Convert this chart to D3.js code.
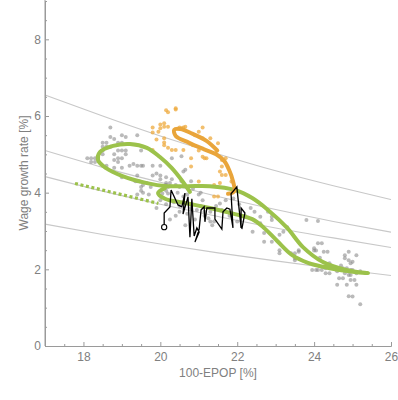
<!DOCTYPE html>
<html>
<head>
<meta charset="utf-8">
<script src="https://cdn.jsdelivr.net/npm/d3@7"></script>
<style>
  body { margin: 0; background: #fff; }
  svg { display: block; font-family: "Liberation Sans", Arial, sans-serif; }
</style>
</head>
<body>
<svg width="398" height="400"></svg>
<script>
// ---- data ----
var xTicks = [18, 20, 22, 24, 26];
var yTicks = [0, 2, 4, 6, 8];

// grey reference curves, sampled at refX
var refX = [17, 18.5, 20, 21.5, 23, 24.5, 26];
var refCurves = [
  [6.55, 6.00, 5.48, 5.01, 4.57, 4.18, 3.82],
  [5.10, 4.66, 4.27, 3.90, 3.56, 3.25, 2.97],
  [4.42, 4.04, 3.70, 3.38, 3.08, 2.82, 2.57],
  [3.18, 2.91, 2.66, 2.43, 2.22, 2.02, 1.84]
];

var grayPts = [
  [18.7,5.7],[19.0,5.5],[19.1,5.45],[18.7,5.45],[19.4,5.5],
  [18.5,5.3],[18.6,5.3],[18.8,5.4],[19.0,5.3],[18.9,5.3],
  [18.5,5.2],[18.6,5.2],[18.7,5.2],[18.9,5.1],[19.0,5.1],[19.1,5.1],[19.1,5.0],[18.5,5.1],[18.8,5.0],[19.5,5.1],
  [18.1,4.9],[18.2,4.9],[18.3,4.9],[18.2,4.8],[18.3,4.8],[18.5,5.0],[18.8,4.85],[18.9,4.8],[19.0,4.65],[18.8,4.65],
  [19.3,4.75],[19.55,4.7],[18.9,4.9],[19.0,4.9],[18.6,4.7],[19.2,4.7],[19.4,4.7],[19.5,4.7],[19.8,4.7],[20.0,4.7],
  [20.3,4.9],[20.55,4.95],[20.6,4.55],[20.8,4.3],[20.15,4.2],[20.25,4.25],[20.4,4.2],[20.5,4.15],[19.55,4.0],[19.7,3.95],
  [19.4,3.95],[19.4,4.3],[19.5,4.15],[19.5,4.05],[19.65,4.25],[19.9,4.5],[20.0,4.35],[20.15,4.4],[20.3,4.35],[20.65,4.6],
  [20.55,4.3],[19.4,4.45],[19.0,4.4],[19.35,4.3],[19.45,4.3],[19.55,4.2],[20.0,4.45],[20.15,4.25],[20.2,4.15],[20.15,4.05],
  [20.05,3.98],[20.2,3.98],[20.0,3.8],[20.15,3.7],[19.9,3.6],[19.8,4.45],[19.75,4.15],
  [20.45,4.0],[20.6,3.9],[20.7,3.95],[20.85,4.1],[21.0,3.95],[21.1,3.8],[20.95,3.55],[21.15,3.4],[21.3,3.25],
  [20.8,3.6],[21.05,4.0],[21.05,3.65],[21.15,3.5],[21.25,3.33],[21.35,3.15],[21.4,3.25],[21.3,3.5],[21.55,3.72],[21.7,3.8],
  [22.35,3.6],[22.45,3.5],[22.4,2.98],[22.2,3.4],[22.0,3.25],[20.4,3.4],[20.5,3.5],[20.25,3.3],[20.65,3.15],
  [20.35,3.75],[20.5,3.65],[20.7,3.45],[21.6,3.55],[21.8,3.4],[22.05,3.7],[21.9,3.85],[20.9,3.3],[21.45,3.65],
  [22.6,3.37],[22.9,3.37],[22.9,3.29],[22.8,3.5],[22.6,3.2],[22.7,2.95],[22.7,2.72],[22.9,2.72],[23.1,2.9],[23.2,2.98],
  [23.1,2.5],[23.1,2.42],[23.3,3.1],[23.4,2.42],[23.5,2.42],[23.6,2.46],[23.6,2.5],[23.5,2.29],[23.5,2.24],[23.8,3.29],
  [24.1,3.26],[24.1,2.68],[24.2,2.68],[24.0,2.49],[24.05,2.49],[24.25,2.46],[24.35,2.46],[23.95,1.98],[24.05,1.98],[24.1,1.98],
  [24.2,1.98],[24.3,2.03],[24.4,2.03],[24.3,1.9],[24.4,1.9],[24.4,2.16],[24.0,2.55],[24.15,2.3],
  [24.9,2.46],[25.1,2.37],[24.8,2.29],[24.9,2.24],[24.95,2.16],[24.75,2.03],[24.85,2.03],[24.95,1.98],[25.0,1.98],[25.1,1.9],
  [24.8,1.9],[24.9,1.85],[24.95,1.85],[24.65,1.77],[24.75,1.77],[24.95,1.72],[24.6,1.6],[25.1,1.6],[24.9,1.3],[25.0,1.29],
  [25.2,1.09],[24.8,2.37],[25.0,2.2],[24.85,1.6],[25.05,1.72],[24.6,1.95],[24.7,2.1],[25.2,1.95],[24.55,2.0]
];

var orangePts = [
  [20.2,6.1],[20.4,6.17],[19.8,5.7],[20.0,5.78],[20.1,5.81],[20.1,5.72],[20.0,5.68],[20.2,5.72],[19.8,5.57],[19.95,5.59],
  [19.9,5.39],[20.1,5.42],[20.1,5.31],[20.1,5.24],[20.5,5.7],[20.6,5.7],[21.1,5.7],[21.0,5.59],[20.2,5.17],[20.4,5.11],
  [20.6,5.11],[20.85,5.24],[21.3,5.42],[21.5,5.29],[21.1,4.94],[21.15,4.9],[21.2,4.9],[20.8,4.9],[21.6,4.85],[21.7,4.9],
  [21.6,4.68],[21.55,4.55],[21.1,5.42],[21.6,4.46],[21.7,4.46],[21.4,4.2],[21.55,4.25],[21.85,4.29],[21.0,4.29],[21.4,3.9],
  [21.5,3.9],[20.4,6.2],[20.15,6.15],[19.8,5.11],[20.3,5.11],[20.55,5.68],[20.65,5.72],[20.8,4.68],[21.0,5.1],[20.9,5.5]
];

// green dotted segment
var greenDotted = [[17.78,4.24],[19.95,3.72]];

// green solid trajectory
var greenPath = [
  [20.77,4.02],[20.59,4.28],[20.30,4.64],[19.99,4.93],[19.65,5.17],[19.21,5.27],[18.77,5.22],[18.43,5.06],
  [18.38,4.85],[18.59,4.64],[19.00,4.44],[19.65,4.25],[20.17,4.17],[20.72,4.17],[21.29,4.17],[21.94,4.07],
  [22.39,3.86],[22.80,3.55],[23.30,3.08],[23.71,2.58],[24.23,2.19],[24.86,1.98],[25.40,1.90],[24.80,1.96],
  [24.41,2.03],[23.84,2.17],[23.43,2.37],[23.04,2.74],[22.70,3.08],[22.39,3.31],[21.94,3.44],[21.29,3.60],
  [20.64,3.73],[20.12,3.84],[19.94,3.99],[20.12,4.12]
];

// orange trajectory
var orangePath = [
  [21.48,5.10],[21.20,5.35],[20.83,5.54],[20.52,5.66],[20.36,5.64],[20.40,5.48],[20.75,5.30],[21.14,5.13],
  [21.45,5.00],[21.66,4.83],[21.79,4.59],[21.89,4.30],[21.92,4.04],[21.76,3.97]
];

// black monthly path
var blackPath = [
  [20.10,3.10],[20.10,3.47],[20.25,3.63],[20.28,4.07],[20.46,3.68],[20.56,3.63],[20.64,3.99],[20.59,3.44],
  [20.72,3.89],[20.77,2.84],[20.82,3.84],[20.88,2.87],[20.95,3.08],[21.01,2.97],[20.90,2.71],[21.01,3.05],
  [21.06,3.55],[21.14,3.63],[21.16,3.24],[21.21,3.60],[21.42,3.60],[21.42,3.31],[21.60,3.05],[21.63,3.50],
  [21.73,3.60],[21.81,3.57],[21.89,3.08],[21.84,3.97],[21.99,4.15],[22.10,3.08],[22.10,3.60],[22.20,3.47],
  [22.12,3.05]
];

// ---- drawing ----
var svg = d3.select("svg");
var x = d3.scaleLinear().domain([17, 26]).range([45, 391]);
var y = d3.scaleLinear().domain([0, 9]).range([346, 1]);

var axisGrey = "#9a9a9a", textGrey = "#808080";

// reference curves
var refLine = d3.line()
  .x(function(d, i) { return x(refX[i]); })
  .y(function(d) { return y(d); })
  .curve(d3.curveNatural);
svg.append("g").selectAll("path")
  .data(refCurves)
  .enter().append("path")
  .attr("d", refLine)
  .attr("fill", "none")
  .attr("stroke", "#c8c8c8")
  .attr("stroke-width", 1.1);

// scatter
svg.append("g").selectAll("circle")
  .data(grayPts)
  .enter().append("circle")
  .attr("cx", function(d) { return x(d[0]); })
  .attr("cy", function(d) { return y(d[1]); })
  .attr("r", 2)
  .attr("fill", "#8c8c8c")
  .attr("fill-opacity", 0.6);

svg.append("g").selectAll("circle")
  .data(orangePts)
  .enter().append("circle")
  .attr("cx", function(d) { return x(d[0]); })
  .attr("cy", function(d) { return y(d[1]); })
  .attr("r", 2)
  .attr("fill", "#eda93e")
  .attr("fill-opacity", 0.75);

var pathLine = d3.line()
  .x(function(d) { return x(d[0]); })
  .y(function(d) { return y(d[1]); });

// green dotted
svg.append("path")
  .attr("d", pathLine(greenDotted))
  .attr("fill", "none")
  .attr("stroke", "#9cc24b")
  .attr("stroke-width", 3.2)
  .attr("stroke-dasharray", "3,2.6");

// green trajectory
svg.append("path")
  .attr("d", pathLine.curve(d3.curveCatmullRom.alpha(0.5))(greenPath))
  .attr("fill", "none")
  .attr("stroke", "#9cc24b")
  .attr("stroke-width", 4)
  .attr("stroke-linecap", "round")
  .attr("stroke-linejoin", "round");

// orange trajectory
svg.append("path")
  .attr("d", pathLine.curve(d3.curveCatmullRom.alpha(0.5))(orangePath))
  .attr("fill", "none")
  .attr("stroke", "#e9a53a")
  .attr("stroke-width", 4)
  .attr("stroke-linecap", "round");

// black path
svg.append("path")
  .attr("d", pathLine.curve(d3.curveLinear)(blackPath))
  .attr("fill", "none")
  .attr("stroke", "#000")
  .attr("stroke-width", 1.3)
  .attr("stroke-linejoin", "miter");
svg.append("circle")
  .attr("cx", x(blackPath[0][0]))
  .attr("cy", y(blackPath[0][1]))
  .attr("r", 2.6)
  .attr("fill", "#fff")
  .attr("stroke", "#000")
  .attr("stroke-width", 1.1);

// axes
var xMinor = d3.range(17, 26.01, 0.5).filter(function(v) { return xTicks.indexOf(v) < 0; });
var yMinor = d3.range(0.5, 9.01, 0.5).filter(function(v) { return yTicks.indexOf(v) < 0; });

var gx = svg.append("g").attr("transform", "translate(0," + y(0) + ")")
  .call(d3.axisBottom(x).tickValues(xTicks).tickSizeInner(-4).tickSizeOuter(0).tickPadding(6).tickFormat(d3.format("d")));
var gxm = svg.append("g").attr("transform", "translate(0," + y(0) + ")")
  .call(d3.axisBottom(x).tickValues(xMinor).tickSizeInner(-2).tickSizeOuter(0).tickFormat(""));
var gy = svg.append("g").attr("transform", "translate(" + x(17) + ",0)")
  .call(d3.axisLeft(y).tickValues(yTicks).tickSizeInner(-4).tickSizeOuter(0).tickPadding(4).tickFormat(d3.format("d")));
var gym = svg.append("g").attr("transform", "translate(" + x(17) + ",0)")
  .call(d3.axisLeft(y).tickValues(yMinor).tickSizeInner(-2).tickSizeOuter(0).tickFormat(""));

svg.append("line")
  .attr("x1", x(17)).attr("x2", x(17)).attr("y1", 0).attr("y2", y(0))
  .attr("stroke", axisGrey);

[gx, gxm, gy, gym].forEach(function(g) {
  g.select(".domain").attr("stroke", axisGrey);
  g.selectAll(".tick line").attr("stroke", axisGrey);
  g.selectAll("text").attr("fill", textGrey)
    .style("font-size", "12px")
    .style("font-family", "'Liberation Sans', Arial, sans-serif");
});

svg.append("text")
  .attr("x", 218).attr("y", 377)
  .attr("text-anchor", "middle")
  .attr("fill", textGrey)
  .style("font-size", "12px")
  .text("100-EPOP [%]");

svg.append("text")
  .attr("transform", "translate(28,173) rotate(-90)")
  .attr("text-anchor", "middle")
  .attr("fill", textGrey)
  .style("font-size", "12px")
  .text("Wage growth rate [%]");
</script>
</body>
</html>
